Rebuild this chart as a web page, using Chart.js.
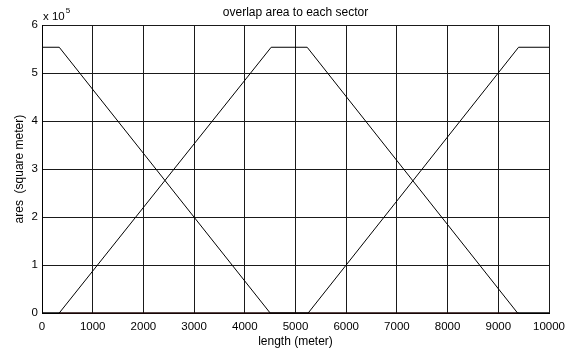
<!DOCTYPE html>
<html>
<head>
<meta charset="utf-8">
<script src="https://cdn.jsdelivr.net/npm/chart.js@4"></script>
<style>
  html, body { margin: 0; padding: 0; background: #fff; }
  #wrap { width: 575px; height: 354px; }
</style>
</head>
<body>
<div id="wrap"><canvas id="overlapChart" width="575" height="354"></canvas></div>
<script>
// datos (y en metros cuadrados)
const sector1X = [0, 340, 4500, 10000];
const sector1Y = [554000, 554000, 0, 0];
const sector2X = [0, 340, 4520, 5230, 9380, 10000];
const sector2Y = [0, 0, 554000, 554000, 0, 0];
const sector3X = [0, 5250, 9400, 10000];
const sector3Y = [0, 0, 554000, 554000];
const zeroX = [340, 9400];
const zeroY = [0, 0];

const xTicks = [0, 1000, 2000, 3000, 4000, 5000, 6000, 7000, 8000, 9000, 10000];
const yTicks = [0, 1, 2, 3, 4, 5, 6]; // x 10^5

const FONT = 'Liberation Sans, Arial, sans-serif';

function toPoints(xs, ys) {
  return xs.map((x, i) => ({ x: x, y: ys[i] }));
}

function lineSet(xs, ys, color) {
  return {
    data: toPoints(xs, ys),
    borderColor: color,
    borderWidth: 1,
    pointRadius: 0,
    fill: false,
    tension: 0,
    clip: false
  };
}

// el "x 10^5" arriba del eje y
const exponentLabel = {
  id: 'exponentLabel',
  afterDraw(chart) {
    const ctx = chart.ctx;
    const left = chart.chartArea.left;
    ctx.save();
    ctx.fillStyle = '#000';
    ctx.textBaseline = 'alphabetic';
    ctx.font = '11.5px ' + FONT;
    ctx.fillText('x 10', left + 1, 20);
    const w = ctx.measureText('x 10').width;
    ctx.font = '8px ' + FONT;
    ctx.fillText('5', left + 2 + w, 13);
    ctx.restore();
  }
};

const ctx = document.getElementById('overlapChart').getContext('2d');
new Chart(ctx, {
  type: 'line',
  data: {
    datasets: [
      lineSet(sector1X, sector1Y, '#000'),
      lineSet(sector2X, sector2Y, '#000'),
      lineSet(sector3X, sector3Y, '#000'),
      lineSet(zeroX, zeroY, '#5c1414')
    ]
  },
  options: {
    responsive: false,
    animation: false,
    layout: { padding: { left: 0, right: 26, top: 0, bottom: 0 } },
    plugins: {
      legend: { display: false },
      tooltip: { enabled: false },
      title: {
        display: true,
        text: 'overlap area to each sector',
        fullSize: false,
        color: '#000',
        font: { family: FONT, size: 12, weight: 'normal', lineHeight: 1.1 },
        padding: { top: 6, bottom: 6 }
      }
    },
    scales: {
      x: {
        type: 'linear',
        min: 0,
        max: 10000,
        afterFit: (scale) => { scale.height = 41; },
        afterBuildTicks: (scale) => { scale.ticks = xTicks.map(v => ({ value: v })); },
        ticks: {
          color: '#000',
          padding: 7,
          maxRotation: 0,
          font: { family: FONT, size: 11.5 },
          callback: (value) => String(value)
        },
        grid: { color: '#1a1a1a', lineWidth: 1, drawTicks: false },
        border: { color: '#000', width: 1 },
        title: {
          display: true,
          text: 'length (meter)',
          color: '#000',
          font: { family: FONT, size: 12 },
          padding: { top: 0, bottom: 5 }
        }
      },
      y: {
        type: 'linear',
        min: 0,
        max: 600000,
        afterFit: (scale) => { scale.width = 42; },
        afterBuildTicks: (scale) => { scale.ticks = yTicks.map(v => ({ value: v * 1e5 })); },
        ticks: {
          color: '#000',
          padding: 4,
          font: { family: FONT, size: 11.5 },
          callback: (value) => String(value / 1e5)
        },
        grid: { color: '#1a1a1a', lineWidth: 1, drawTicks: false },
        border: { color: '#000', width: 1 },
        title: {
          display: true,
          text: 'ares  (square meter)',
          color: '#000',
          font: { family: FONT, size: 12 },
          padding: { top: 12, bottom: 0 }
        }
      }
    }
  },
  plugins: [exponentLabel]
});
</script>
</body>
</html>
